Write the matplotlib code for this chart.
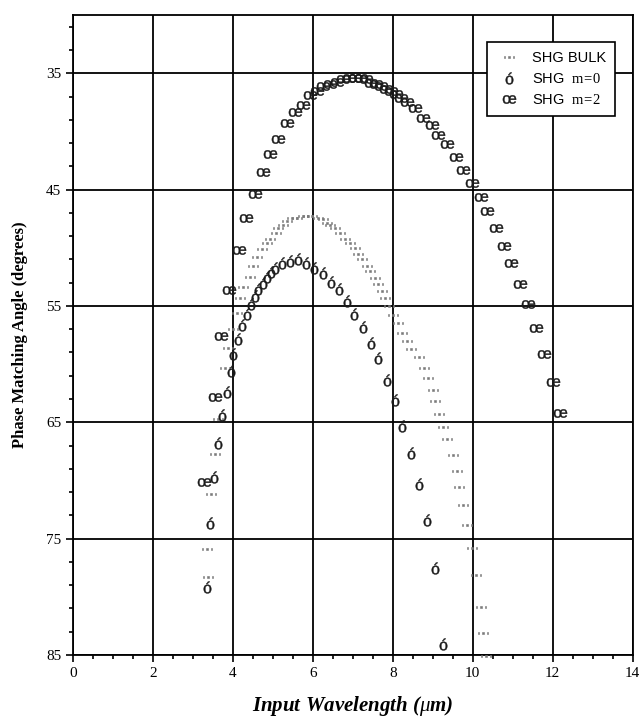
import matplotlib
matplotlib.use("Agg")
import matplotlib.pyplot as plt
from matplotlib.ticker import FixedLocator, MultipleLocator
from matplotlib.lines import Line2D
import numpy as np

plt.rcParams['font.family'] = ['Liberation Serif', 'DejaVu Serif']
plt.rcParams['mathtext.fontset'] = 'custom'
plt.rcParams['mathtext.rm'] = 'Liberation Serif'
plt.rcParams['mathtext.it'] = 'Liberation Serif:italic'
plt.rcParams['mathtext.sf'] = 'Liberation Sans'

# SHG bulk (dotted glyphs)
bulk_x = [3.38, 3.35, 3.45, 3.55, 3.63, 3.80, 3.88, 4.00, 4.10, 4.18, 4.25, 4.43,
          4.50, 4.60, 4.73, 4.85, 4.93, 5.08, 5.13, 5.25, 5.35, 5.48, 5.60, 5.75,
          5.88, 5.98, 6.13, 6.25, 6.35, 6.43, 6.55, 6.68, 6.80, 6.93, 7.05, 7.13,
          7.23, 7.35, 7.43, 7.55, 7.63, 7.73, 7.80, 7.90, 8.00, 8.13, 8.23, 8.35,
          8.45, 8.65, 8.78, 8.88, 9.00, 9.05, 9.15, 9.25, 9.35, 9.50, 9.60, 9.65,
          9.75, 9.85, 9.98, 10.08, 10.20, 10.25, 10.33]
bulk_y = [78.3, 75.9, 71.2, 67.7, 64.7, 60.3, 58.6, 57.0, 55.6, 54.3, 53.4, 52.5,
          51.6, 50.8, 50.1, 49.6, 49.2, 48.7, 48.3, 48.0, 47.7, 47.4, 47.4, 47.3,
          47.3, 47.3, 47.4, 47.5, 47.9, 48.0, 48.3, 48.7, 49.2, 49.6, 50.0, 50.5,
          51.0, 51.6, 52.0, 52.6, 53.1, 53.7, 54.3, 55.0, 55.8, 56.5, 57.3, 58.0,
          58.7, 59.4, 60.3, 61.2, 62.2, 63.2, 64.3, 65.4, 66.4, 67.8, 69.2, 70.6,
          72.1, 73.8, 75.8, 78.1, 80.9, 83.1, 85.1]

# SHG m=0
m0_x = [3.35, 3.43, 3.53, 3.63, 3.73, 3.85, 3.95, 4.00, 4.13, 4.23, 4.35, 4.45,
        4.55, 4.63, 4.75, 4.85, 4.95, 5.05, 5.23, 5.43, 5.63, 5.83, 6.03, 6.25,
        6.45, 6.65, 6.85, 7.03, 7.25, 7.45, 7.63, 7.85, 8.05, 8.23, 8.45, 8.65,
        8.85, 9.05, 9.25]
m0_y = [79.2, 73.7, 69.7, 66.8, 64.4, 62.4, 60.6, 59.1, 57.8, 56.6, 55.7, 54.8,
        54.1, 53.5, 53.0, 52.5, 52.1, 51.7, 51.3, 51.1, 51.0, 51.3, 51.7, 52.2,
        52.9, 53.5, 54.6, 55.7, 56.8, 58.2, 59.5, 61.4, 63.1, 65.3, 67.6, 70.3,
        73.4, 77.5, 84.1]

# SHG m=2
m2_x = [3.28, 3.55, 3.70, 3.90, 4.15, 4.33, 4.55, 4.75, 4.93, 5.13, 5.35, 5.55,
        5.75, 5.93, 6.10, 6.25, 6.43, 6.60, 6.75, 6.90, 7.05, 7.20, 7.33, 7.45,
        7.58, 7.70, 7.83, 7.95, 8.08, 8.20, 8.35, 8.55, 8.75, 8.98, 9.13, 9.35,
        9.58, 9.75, 9.98, 10.20, 10.35, 10.58, 10.78, 10.95, 11.18, 11.38, 11.58,
        11.78, 12.00, 12.18]
m2_y = [70.1, 62.8, 57.6, 53.6, 50.2, 47.4, 45.4, 43.5, 41.9, 40.6, 39.3, 38.3,
        37.7, 36.9, 36.5, 36.1, 35.9, 35.7, 35.5, 35.4, 35.4, 35.4, 35.5, 35.8,
        35.9, 36.1, 36.3, 36.5, 36.8, 37.1, 37.5, 38.0, 38.8, 39.4, 40.3, 41.1,
        42.2, 43.3, 44.4, 45.6, 46.8, 48.3, 49.8, 51.3, 53.1, 54.8, 56.9,
        59.1, 61.5, 64.2]

labels = ['SHG BULK', r'SHG  $\mathrm{m\!=\!0}$', r'SHG  $\mathrm{m\!=\!2}$']

fig = plt.figure(figsize=(6.43, 7.26), dpi=100)
ax = fig.add_axes([0.1135, 0.098, 0.8705, 0.881])

bulk_mk = r'$\mathsf{...}$'
m0_mk = r'$\mathsf{ó}$'
m2_mk = r'$\mathsf{œ}$'

bulk_style = dict(ls='none', marker=bulk_mk, ms=7.5, mew=0.4, color='#7a7a7a')
m0_style = dict(ls='none', marker=m0_mk, ms=8.5, mew=0.3, color='#1a1a1a')
m2_style = dict(ls='none', marker=m2_mk, ms=9.5, mew=0.3, color='#1a1a1a')

ax.plot(bulk_x, bulk_y, clip_on=False, zorder=3, **bulk_style)
ax.plot(m0_x, m0_y, zorder=4, **m0_style)
ax.plot(m2_x, m2_y, zorder=4, **m2_style)

ax.set_xlim(0, 14)
ax.set_ylim(85, 30)
ax.xaxis.set_major_locator(MultipleLocator(2))
ax.xaxis.set_minor_locator(MultipleLocator(0.5))
ax.yaxis.set_major_locator(FixedLocator([35, 45, 55, 65, 75, 85]))
ax.yaxis.set_minor_locator(FixedLocator(np.arange(31, 86, 2)))
ax.grid(True, which='major', color='black', linewidth=1.3)
for s in ax.spines.values():
    s.set_linewidth(1.3)
ax.tick_params(which='major', direction='out', length=5, width=1.2, labelsize=11)
ax.tick_params(which='minor', direction='out', length=3, width=1.2)

ax.set_ylabel('Phase Matching Angle (degrees)', fontsize=12, fontweight='bold',
              labelpad=13)
ax.set_xlabel(r'Input Wavelength ($\mu$m)', fontsize=15, fontweight='bold',
              fontstyle='italic', labelpad=10)

handles = [Line2D([], [], **bulk_style),
           Line2D([], [], **m0_style),
           Line2D([], [], **m2_style)]
leg = ax.legend(handles, labels, loc='upper right', bbox_to_anchor=(0.968, 0.958),
                borderaxespad=0, fancybox=False, edgecolor='black', framealpha=1,
                prop={'family': 'Liberation Sans', 'size': 10.5},
                handlelength=1.8, handletextpad=0.7, borderpad=0.6,
                labelspacing=0.5)
leg.get_frame().set_linewidth(1.2)
leg.set_zorder(10)

fig.savefig('out.png', dpi=100)
